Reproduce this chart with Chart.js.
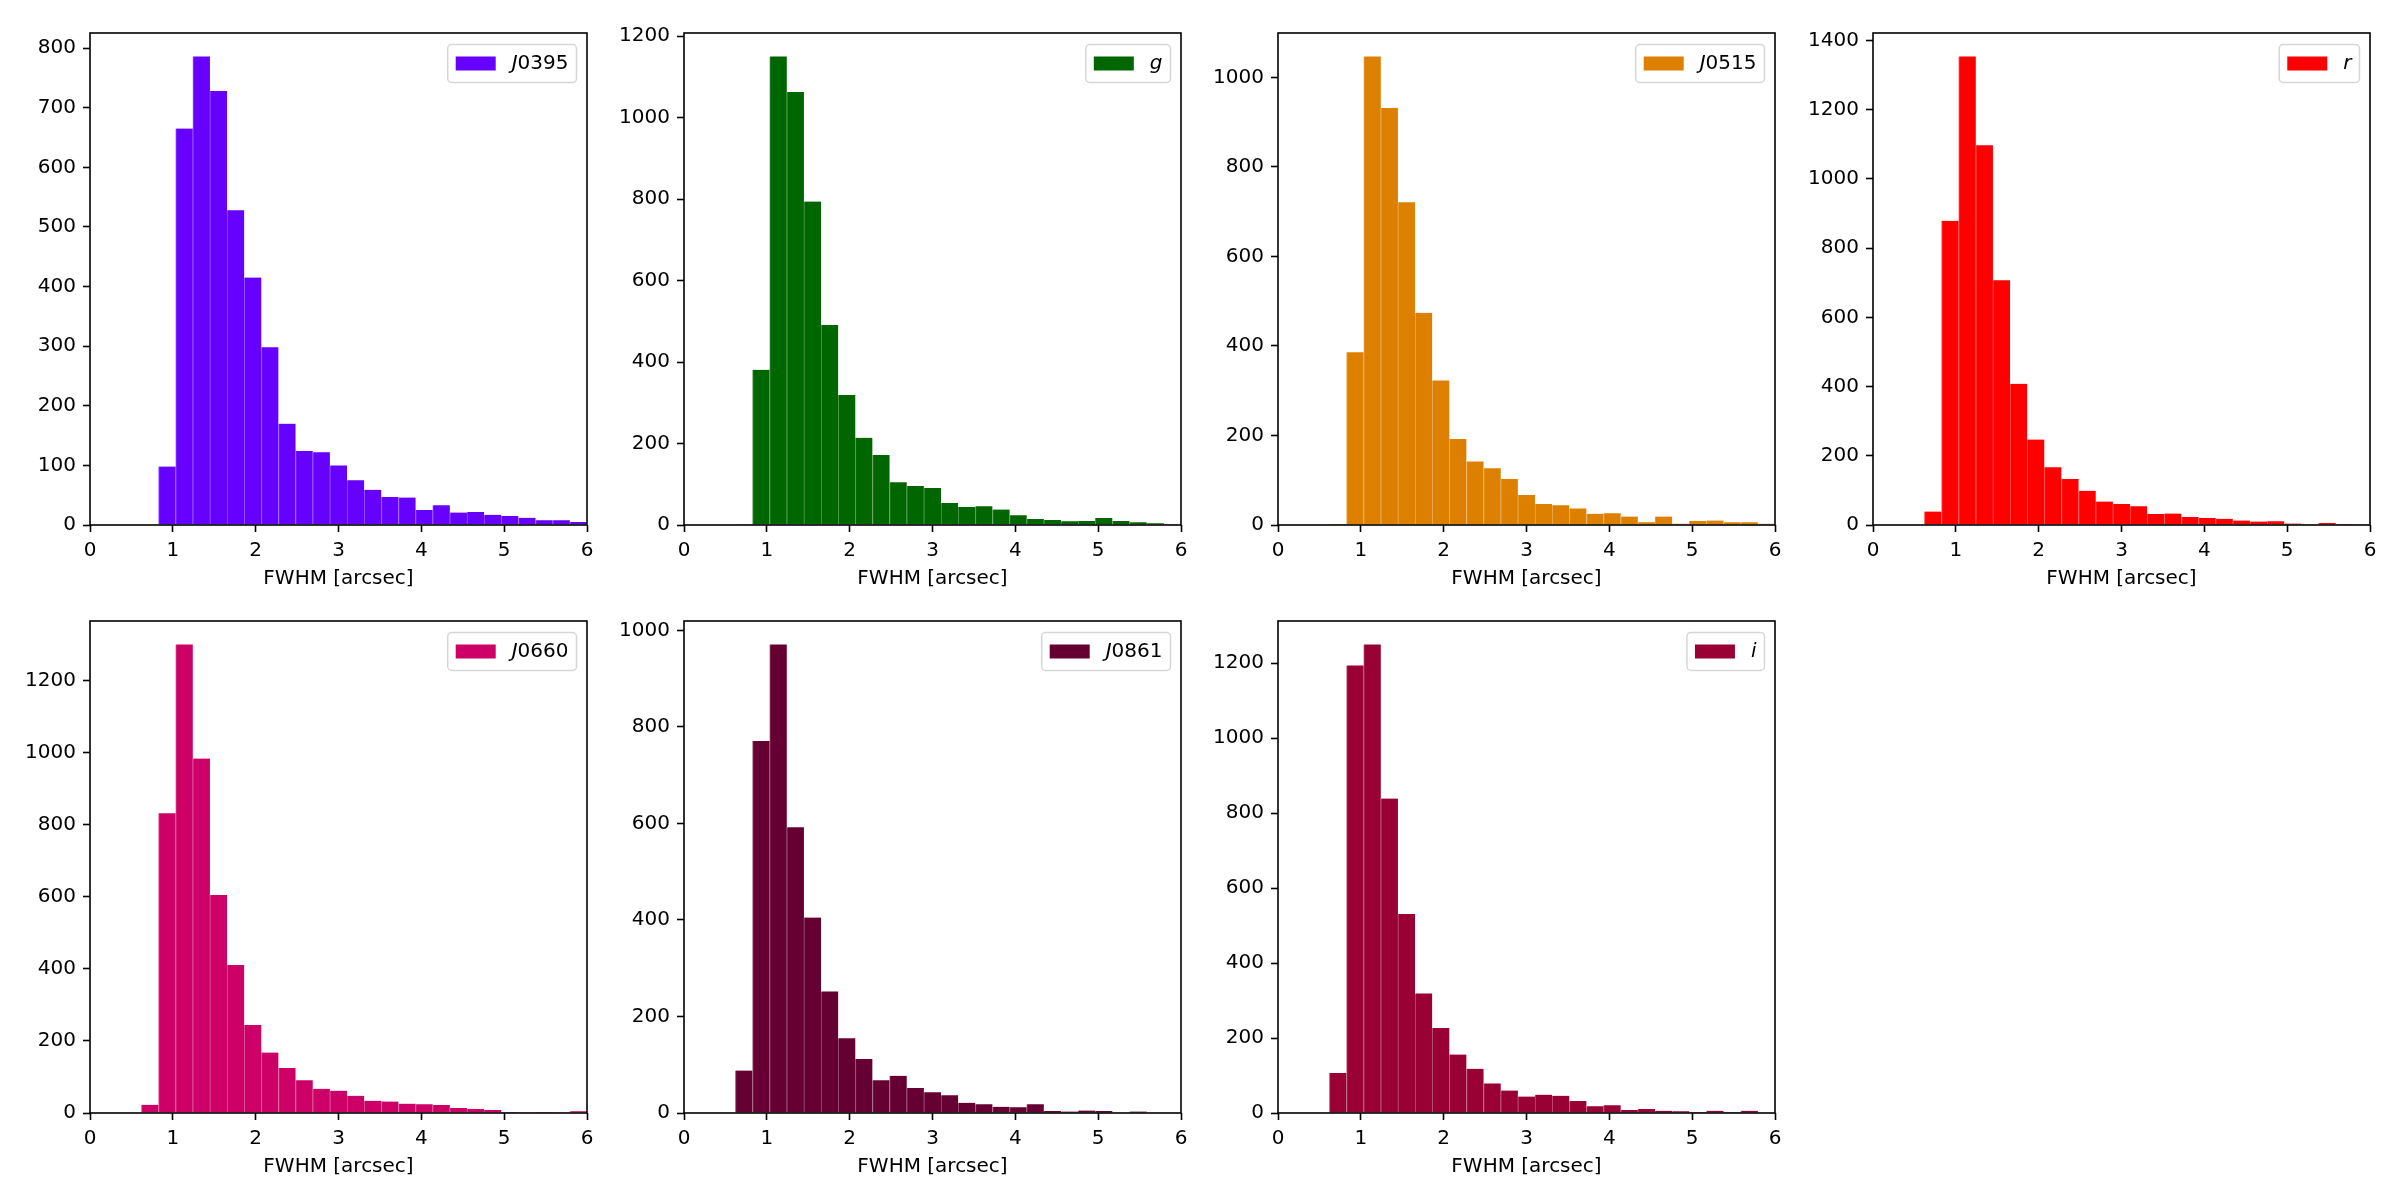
<!DOCTYPE html>
<html>
<head>
<meta charset="utf-8">
<script src="https://cdn.jsdelivr.net/npm/chart.js@4.4.0/dist/chart.umd.min.js"></script>
<style>
  body { margin: 0; background: #fff; }
  #fig { position: relative; width: 2400px; height: 1200px; background: #fff; overflow: hidden; }
  #fig canvas { position: absolute; }
</style>
</head>
<body>
<div id="fig"></div>
<script>
// histogram bins: 29 bins between 0 and 6 arcsec (centres)
const binCenters = [0.103, 0.310, 0.517, 0.724, 0.931, 1.138, 1.345, 1.552, 1.759, 1.966,
                    2.172, 2.379, 2.586, 2.793, 3.000, 3.207, 3.414, 3.621, 3.828, 4.034,
                    4.241, 4.448, 4.655, 4.862, 5.069, 5.276, 5.483, 5.690, 5.897];

const filterNames = ['J0395', 'g', 'J0515', 'r', 'J0660', 'J0861', 'i'];
const filterColors = ['#6600ff', '#006600', '#dd8000', '#ff0000', '#cc0066', '#660033', '#990033'];

const countsJ0395 = [0, 0, 0, 0, 98, 665, 786, 728, 528, 415, 298, 170, 124, 122, 100, 75, 59, 47, 46, 25, 33, 21, 22, 17, 15, 12, 8, 8, 5];
const countsG     = [0, 0, 0, 2, 381, 1150, 1063, 794, 491, 319, 214, 172, 105, 96, 91, 54, 44, 46, 38, 24, 15, 12, 9, 10, 17, 10, 7, 4, 2];
const countsJ0515 = [0, 0, 0, 2, 386, 1047, 932, 721, 474, 323, 192, 142, 127, 103, 67, 47, 44, 37, 25, 26, 19, 6, 19, 3, 9, 10, 6, 6, 3];
const countsR     = [0, 0, 0, 39, 879, 1354, 1097, 707, 408, 247, 167, 133, 99, 68, 61, 54, 32, 33, 23, 20, 18, 13, 10, 11, 4, 1, 6, 3, 2];
const countsJ0660 = [0, 0, 0, 23, 832, 1301, 984, 605, 411, 244, 168, 125, 91, 67, 62, 48, 34, 32, 26, 24, 22, 14, 11, 8, 3, 2, 3, 2, 5];
const countsJ0861 = [0, 0, 0, 88, 771, 971, 592, 405, 252, 155, 112, 68, 77, 52, 43, 37, 21, 18, 13, 12, 18, 4, 3, 5, 4, 0, 3, 0, 0];
const countsI     = [0, 0, 0, 107, 1194, 1250, 839, 531, 319, 227, 156, 118, 79, 60, 44, 49, 46, 32, 18, 21, 8, 11, 6, 5, 3, 6, 3, 6, 0];

const allCounts = [countsJ0395, countsG, countsJ0515, countsR, countsJ0660, countsJ0861, countsI];
const yTickSteps = [100, 200, 200, 200, 200, 200, 200];
const xTicks = [0, 1, 2, 3, 4, 5, 6];
const xTitle = 'FWHM [arcsec]';

// layout of the 2x4 grid (plot area corners, px)
const colLeft = [90, 684, 1278, 1873];
const rowTop = [26, 614];
const plotW = 497, plotH = 499;
const yAxisW = 90, xAxisH = 75, padTop = 12, padRight = 16;

Chart.defaults.font.family = '"DejaVu Sans", sans-serif';
Chart.defaults.font.size = 20;
Chart.defaults.color = '#000';

function tint(hex, amt) {
    const n = parseInt(hex.slice(1), 16);
    const r = (n >> 16) & 255, g = (n >> 8) & 255, b = n & 255;
    const m = c => Math.round(c + (255 - c) * amt);
    return 'rgb(' + m(r) + ',' + m(g) + ',' + m(b) + ')';
}

// full box around the axes, like matplotlib spines
const spines = {
    id: 'spines',
    afterDatasetsDraw(chart) {
        const a = chart.chartArea, ctx = chart.ctx;
        ctx.save();
        ctx.strokeStyle = '#000';
        ctx.lineWidth = 1.6;
        ctx.strokeRect(a.left, a.top, a.right - a.left, a.bottom - a.top);
        ctx.restore();
    }
};

// legend box in the upper right corner
const legendBox = {
    id: 'legendBox',
    afterDraw(chart) {
        const a = chart.chartArea, ctx = chart.ctx;
        const ds = chart.data.datasets[0];
        const m = ds.label.match(/^([A-Za-z]*)(.*)$/);
        ctx.save();
        ctx.font = 'italic 20px "DejaVu Sans"';
        const w1 = ctx.measureText(m[1]).width;
        ctx.font = '20px "DejaVu Sans"';
        const w2 = ctx.measureText(m[2]).width;
        const boxW = 8 + 40 + 16 + w1 + w2 + 8;
        const boxH = 38;
        const x = a.right - 10.5 - boxW;
        const y = a.top + 11.5;
        ctx.beginPath();
        if (ctx.roundRect) ctx.roundRect(x, y, boxW, boxH, 4);
        else ctx.rect(x, y, boxW, boxH);
        ctx.fillStyle = 'rgba(255,255,255,0.8)';
        ctx.fill();
        ctx.strokeStyle = 'rgba(204,204,204,0.8)';
        ctx.lineWidth = 1.5;
        ctx.stroke();
        const cy = y + boxH / 2;
        ctx.fillStyle = ds.backgroundColor;
        ctx.fillRect(x + 8, cy - 7, 40, 14);
        ctx.fillStyle = '#000';
        ctx.textBaseline = 'middle';
        ctx.font = 'italic 20px "DejaVu Sans"';
        ctx.fillText(m[1], x + 64, cy);
        ctx.font = '20px "DejaVu Sans"';
        ctx.fillText(m[2], x + 64 + w1, cy);
        ctx.restore();
    }
};

const fig = document.getElementById('fig');

filterNames.forEach((name, k) => {
    const counts = allCounts[k];
    const col = k % 4, row = Math.floor(k / 4);
    const canvas = document.createElement('canvas');
    canvas.width = yAxisW + plotW + padRight;
    canvas.height = padTop + plotH + xAxisH;
    canvas.style.left = (colLeft[col] - yAxisW) + 'px';
    canvas.style.top = (rowTop[row] - padTop) + 'px';
    fig.appendChild(canvas);

    // matplotlib autoscale: 5% headroom above the tallest bar
    const ymax = Math.max(...counts) * 1.05;
    const yTicks = [];
    for (let v = 0; v <= ymax; v += yTickSteps[k]) yTicks.push(v);

    new Chart(canvas.getContext('2d'), {
        type: 'bar',
        data: {
            datasets: [{
                label: name,
                data: binCenters.map((x, i) => ({ x: x, y: counts[i] })),
                backgroundColor: filterColors[k],
                borderColor: tint(filterColors[k], 0.3),
                borderWidth: { left: 1, top: 0, right: 0, bottom: 0 },
                borderSkipped: false,
                barPercentage: 1,
                categoryPercentage: 1
            }]
        },
        options: {
            responsive: false,
            animation: false,
            events: [],
            layout: { padding: { top: padTop, right: padRight, left: 0, bottom: 0 } },
            plugins: {
                legend: { display: false },
                tooltip: { enabled: false }
            },
            scales: {
                x: {
                    type: 'linear',
                    min: 0,
                    max: 6,
                    offset: false,
                    afterFit: (scale) => { scale.height = xAxisH; },
                    afterBuildTicks: (scale) => { scale.ticks = xTicks.map(v => ({ value: v })); },
                    grid: { display: true, offset: false, drawOnChartArea: false, drawTicks: true,
                            tickLength: 7, tickWidth: 1.6, tickColor: '#000' },
                    border: { display: false },
                    ticks: { autoSkip: false, maxRotation: 0, padding: 7, color: '#000',
                             font: { size: 20 }, callback: (v) => String(v) },
                    title: { display: true, text: xTitle, color: '#000',
                             font: { size: 20 }, padding: { top: 4, bottom: 9 } }
                },
                y: {
                    min: 0,
                    max: ymax,
                    afterFit: (scale) => { scale.width = yAxisW; },
                    afterBuildTicks: (scale) => { scale.ticks = yTicks.map(v => ({ value: v })); },
                    grid: { display: true, drawOnChartArea: false, drawTicks: true,
                            tickLength: 7, tickWidth: 1.6, tickColor: '#000' },
                    border: { display: false },
                    ticks: { autoSkip: false, padding: 7, color: '#000', font: { size: 20 },
                             callback: (v) => String(v) }
                }
            }
        },
        plugins: [spines, legendBox]
    });
});
</script>
</body>
</html>
